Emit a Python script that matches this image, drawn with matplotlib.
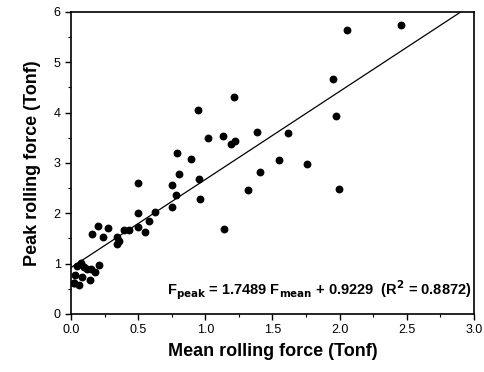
import matplotlib

matplotlib.use("Agg")
import matplotlib.pyplot as plt
import numpy as np
from matplotlib.ticker import MultipleLocator

plt.rcParams["font.family"] = ["Liberation Sans", "DejaVu Sans"]

# mean vs peak rolling force (Tonf)
mean_force = [
    0.02, 0.045, 0.07, 0.095, 0.12, 0.15, 0.21, 0.18, 0.025, 0.08, 0.144, 0.02, 0.06,
    0.154, 0.199, 0.239, 0.278, 0.343, 0.343, 0.358, 0.396, 0.43,
    0.498, 0.547, 0.577, 0.5, 0.627, 0.497, 0.749, 0.754, 0.778, 0.786, 0.806,
    0.896, 0.943, 0.955, 0.96, 1.017, 1.134, 1.137, 1.194, 1.21, 1.224,
    1.318, 1.388, 1.405, 1.547, 1.617, 1.756, 1.95, 1.975, 1.995, 2.055, 2.46,
]
peak_force = [
    0.61, 0.95, 1.01, 0.94, 0.89, 0.90, 0.98, 0.83, 0.78, 0.74, 0.68, 0.61, 0.58,
    1.59, 1.74, 1.52, 1.70, 1.52, 1.39, 1.44, 1.67, 1.67,
    1.72, 1.62, 1.85, 2.01, 2.02, 2.60, 2.13, 2.56, 2.37, 3.20, 2.78,
    3.07, 4.05, 2.68, 2.29, 3.50, 3.54, 1.68, 3.37, 4.31, 3.44,
    2.46, 3.62, 2.82, 3.06, 3.60, 2.98, 4.67, 3.94, 2.49, 5.65, 5.73,
]

slope = 1.7489
intercept = 0.9229
r2 = 0.8872

fig = plt.figure(figsize=(4.84, 3.72), dpi=100)
ax = fig.add_axes([0.147, 0.156, 0.832, 0.812])

ax.scatter(mean_force, peak_force, s=32, color="black", linewidths=0, zorder=3)

x_end = (6 - intercept) / slope
xf = np.array([0.0, x_end])
ax.plot(xf, slope * xf + intercept, color="black", lw=0.9)

ax.text(
    2.98, 0.47,
    r"F$_{\mathbf{peak}}$ = 1.7489 F$_{\mathbf{mean}}$ + 0.9229  (R$^{\mathbf{2}}$ = 0.8872)",
    ha="right", va="center", fontsize=10.5, fontweight="bold",
)

ax.set_xlim(0, 3.0)
ax.set_ylim(0, 6)
ax.xaxis.set_major_locator(MultipleLocator(0.5))
ax.xaxis.set_minor_locator(MultipleLocator(0.25))
ax.yaxis.set_major_locator(MultipleLocator(1))
ax.yaxis.set_minor_locator(MultipleLocator(0.5))
ax.tick_params(which="major", direction="out", length=4, width=1, labelsize=9)
ax.tick_params(which="minor", direction="out", length=2, width=0.8)
for s in ax.spines.values():
    s.set_linewidth(1.2)

ax.set_xlabel("Mean rolling force (Tonf)", fontsize=13, fontweight="bold", labelpad=5)
ax.set_ylabel("Peak rolling force (Tonf)", fontsize=13, fontweight="bold", labelpad=9)

fig.savefig("out.png", dpi=100)
